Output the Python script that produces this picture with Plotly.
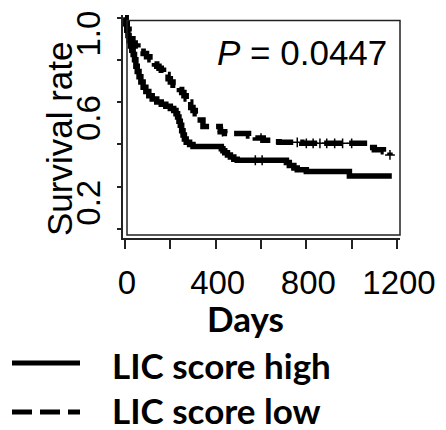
import numpy as np
import plotly.graph_objects as go

# ---- data ----
high_days = [0, 4, 8, 13, 18, 24, 30, 36, 42, 48, 54, 62, 70, 80, 92, 105, 120, 140,
             160, 180, 200, 215, 225, 232, 238, 244, 250, 256, 262, 270, 285, 300,
             425, 432, 440, 452, 465, 480, 495, 712, 725, 745, 760, 800, 990, 1177]
high_surv = [1.0, 0.97, 0.94, 0.915, 0.89, 0.865, 0.845, 0.825, 0.80, 0.77, 0.745, 0.72,
             0.695, 0.67, 0.65, 0.63, 0.615, 0.60, 0.59, 0.58, 0.57, 0.56, 0.545, 0.53,
             0.51, 0.49, 0.465, 0.445, 0.425, 0.41, 0.40, 0.39, 0.38, 0.37, 0.36, 0.35,
             0.34, 0.33, 0.325, 0.315, 0.30, 0.288, 0.28, 0.272, 0.25, 0.25]

low_days = [0, 5, 10, 18, 26, 35, 45, 57, 70, 80, 95, 110, 120, 130, 140, 150, 160, 170,
            180, 190, 200, 212, 225, 240, 250, 260, 270, 280, 290, 300, 310, 320, 332,
            344, 420, 440, 545, 575, 610, 650, 680, 780, 1080, 1100, 1140, 1169]
low_surv = [1.0, 0.97, 0.945, 0.92, 0.90, 0.88, 0.865, 0.85, 0.84, 0.83, 0.815, 0.80, 0.79,
            0.78, 0.77, 0.76, 0.75, 0.74, 0.73, 0.71, 0.695, 0.68, 0.67, 0.66, 0.645, 0.63,
            0.615, 0.60, 0.575, 0.56, 0.545, 0.53, 0.515, 0.485, 0.46, 0.452, 0.44, 0.43,
            0.42, 0.413, 0.41, 0.405, 0.385, 0.375, 0.365, 0.35]

high_censor_days = [575, 605]
low_censor_days = [430, 600, 760, 800, 830, 860, 890, 925, 960, 1000, 1169]

x_tick_vals = [0, 200, 400, 600, 800, 1000, 1200]
x_tick_text = ["0", "", "400", "", "800", "", "1200"]
y_tick_vals = [0.0, 0.2, 0.4, 0.6, 0.8, 1.0]
y_tick_text = ["", "0.2", "", "0.6", "", "1.0"]

group_names = ["LIC score high", "LIC score low"]
p_text = "<i>P</i> = 0.0447"
x_title = "Days"
y_title = "Survival rate"


def step_value(days, surv, t):
    idx = np.searchsorted(np.array(days), t, side="right") - 1
    return [surv[i] for i in idx]


# ---- layout geometry (pixels) ----
W, H = 446, 430
L, R, T, B = 123, 400, 15, 238


def px(x):
    return (x - L) / (R - L)


def py(y):
    return (B - y) / (B - T)


fig = go.Figure()
fig.add_trace(go.Scatter(x=high_days, y=high_surv, mode="lines", line_shape="hv",
                         name=group_names[0], line=dict(color="black", width=5.5)))
fig.add_trace(go.Scatter(x=low_days, y=low_surv, mode="lines", line_shape="hv",
                         name=group_names[1],
                         line=dict(color="black", width=5.5, dash="18px,7px")))
fig.add_trace(go.Scatter(x=high_censor_days,
                         y=step_value(high_days, high_surv, high_censor_days),
                         mode="markers", showlegend=False,
                         marker=dict(symbol="cross-thin", size=7,
                                     line=dict(color="black", width=1.5))))
fig.add_trace(go.Scatter(x=low_censor_days,
                         y=step_value(low_days, low_surv, low_censor_days),
                         mode="markers", showlegend=False,
                         marker=dict(symbol="cross-thin", size=7,
                                     line=dict(color="black", width=1.5))))

shapes = [
    # plot box
    dict(type="rect", xref="paper", yref="paper", x0=px(127), x1=px(400),
         y0=py(235), y1=py(20.5), line=dict(color="#222", width=1.5)),
    # legend samples
    dict(type="line", xref="paper", yref="paper", x0=px(12), x1=px(80),
         y0=py(363), y1=py(363), line=dict(color="black", width=5)),
    dict(type="line", xref="paper", yref="paper", x0=px(12), x1=px(80),
         y0=py(412), y1=py(412), line=dict(color="black", width=5, dash="20px,8px")),
]

tick_font = dict(family="Liberation Sans, Arial, sans-serif", size=33, color="black")
cal_font = dict(family="Lato, sans-serif", size=35, color="black", weight="bold")

annotations = [
    dict(text=p_text, xref="paper", yref="paper", x=px(389), y=py(52),
         xanchor="right", yanchor="middle", showarrow=False,
         font=dict(family="Liberation Sans, Arial, sans-serif", size=35, color="black")),
    dict(text=x_title, xref="paper", yref="paper", x=px(245), y=py(318),
         xanchor="center", yanchor="middle", showarrow=False, font=cal_font),
    dict(text=y_title, xref="paper", yref="paper", x=px(59), y=py(139),
         xanchor="center", yanchor="middle", showarrow=False, textangle=-90,
         font=dict(family="Liberation Sans, Arial, sans-serif", size=35, color="black")),
    dict(text=group_names[0], xref="paper", yref="paper", x=px(110), y=py(365),
         xanchor="left", yanchor="middle", showarrow=False, font=cal_font),
    dict(text=group_names[1], xref="paper", yref="paper", x=px(110), y=py(410),
         xanchor="left", yanchor="middle", showarrow=False, font=cal_font),
]

x0_px, x1200_px = 125, 397
xpp = (x1200_px - x0_px) / 1200.0
y0_px, y1_px = 229, 17.5
ypp = (y0_px - y1_px)

fig.update_layout(
    width=W, height=H,
    margin=dict(l=L, r=W - R, t=T, b=H - B, pad=0, autoexpand=False),
    paper_bgcolor="white", plot_bgcolor="white",
    showlegend=False,
    shapes=shapes, annotations=annotations,
    xaxis=dict(range=[(L - x0_px) / xpp, (R - x0_px) / xpp],
               tickvals=x_tick_vals, ticktext=x_tick_text,
               ticks="outside", ticklen=9, tickwidth=1.5, tickcolor="#222",
               showline=True, linecolor="#222", linewidth=1.5,
               showgrid=False, zeroline=False, tickfont=tick_font,
               ticklabelstandoff=6, ticklabelshift=2, ticklabeloverflow="allow",
               automargin=False),
    yaxis=dict(range=[(y0_px - B) / ypp, (y0_px - T) / ypp],
               tickvals=y_tick_vals, ticktext=y_tick_text,
               ticks="outside", ticklen=4, tickwidth=1.5, tickcolor="#222",
               showline=True, linecolor="#222", linewidth=1.5,
               showgrid=False, zeroline=False, tickfont=tick_font,
               tickangle=-90, ticklabelshift=21, ticklabelstandoff=4,
               ticklabeloverflow="allow", automargin=False),
)

fig.write_html("out.html")
